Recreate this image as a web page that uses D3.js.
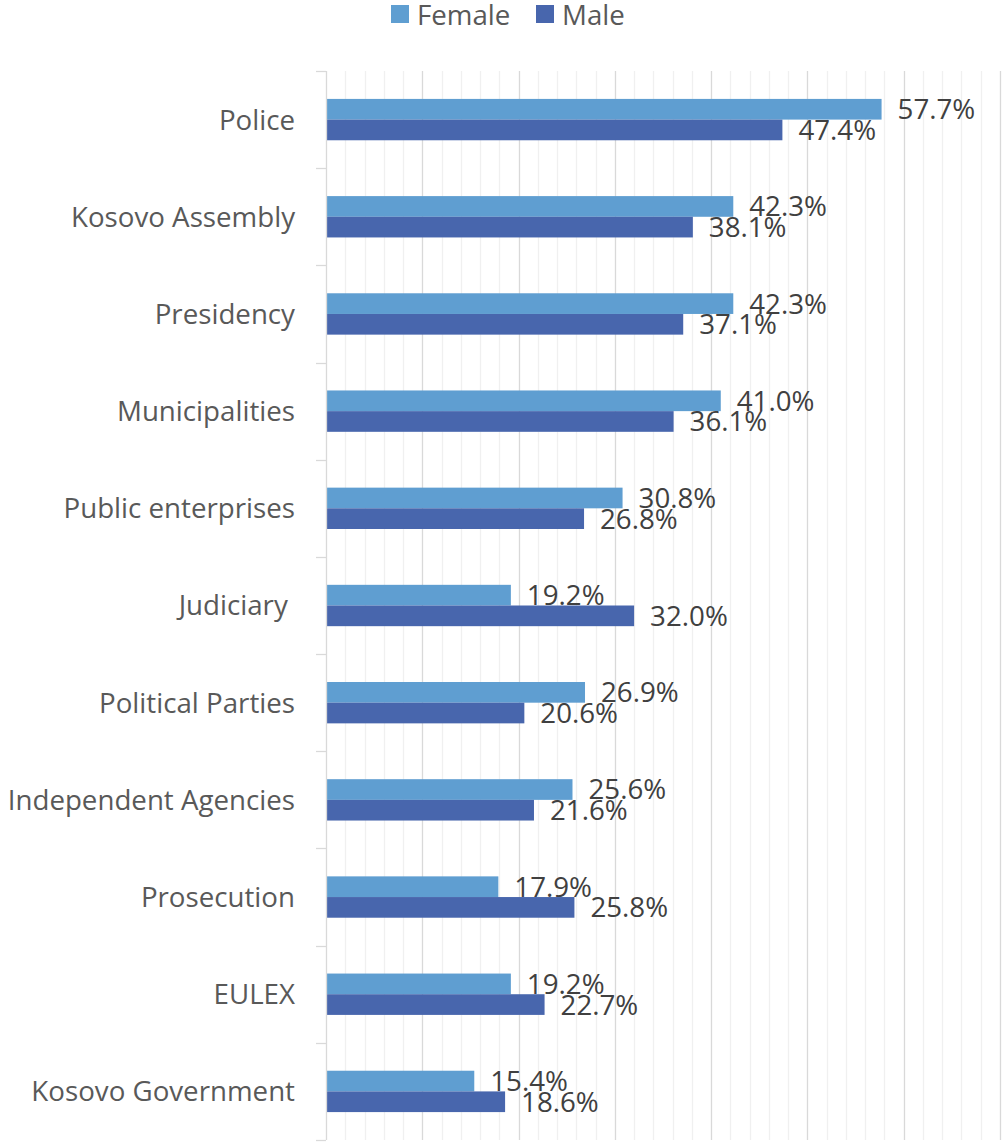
<!DOCTYPE html>
<html>
<head>
<meta charset="utf-8">
<script src="https://cdn.jsdelivr.net/npm/d3@7"></script>
<style>
  body { margin: 0; background: #fff; }
  svg { display: block; font-family: "Open Sans", sans-serif; }
</style>
</head>
<body>
<div id="chart"></div>
<script>
var categories = ["Police", "Kosovo Assembly", "Presidency", "Municipalities", "Public enterprises",
  "Judiciary ", "Political Parties", "Independent Agencies", "Prosecution", "EULEX", "Kosovo Government"];
var female = [57.7, 42.3, 42.3, 41.0, 30.8, 19.2, 26.9, 25.6, 17.9, 19.2, 15.4];
var male = [47.4, 38.1, 37.1, 36.1, 26.8, 32.0, 20.6, 21.6, 25.8, 22.7, 18.6];
var seriesNames = ["Female", "Male"];
var colors = ["#5f9ed1", "#4866ad"];

var width = 1003, height = 1143;
var plotLeft = 326, plotRight = 1000, plotTop = 71, plotBottom = 1140;
var fontSize = "27.7px";

var svg = d3.select("#chart").append("svg").attr("width", width).attr("height", height);

var x = d3.scaleLinear().domain([0, 70]).range([plotLeft, plotRight]);
var y = d3.scaleBand().domain(categories).range([plotTop, plotBottom]);
var inner = d3.scaleBand().domain(seriesNames).range([0, y.bandwidth()]).paddingInner(0).paddingOuter(1.35);

// gridlines: minor every 2%, major every 10%
var minor = d3.range(2, 71, 2).filter(function(d) { return d % 10 !== 0; });
var major = d3.range(10, 71, 10);
svg.append("g").selectAll("line").data(minor).join("line")
  .attr("x1", function(d) { return Math.round(x(d)) + 0.5; })
  .attr("x2", function(d) { return Math.round(x(d)) + 0.5; })
  .attr("y1", plotTop).attr("y2", plotBottom)
  .attr("stroke", "#f0f0f0").attr("stroke-width", 1.3);
svg.append("g").selectAll("line").data(major).join("line")
  .attr("x1", function(d) { return Math.round(x(d)) + 0.5; })
  .attr("x2", function(d) { return Math.round(x(d)) + 0.5; })
  .attr("y1", plotTop).attr("y2", plotBottom)
  .attr("stroke", "#d9d9d9").attr("stroke-width", 1.3);

// bars
var data = [];
categories.forEach(function(c, i) {
  data.push({cat: c, s: "Female", v: female[i], color: colors[0]});
  data.push({cat: c, s: "Male", v: male[i], color: colors[1]});
});

svg.append("g").selectAll("rect").data(data).join("rect")
  .attr("x", x(0))
  .attr("y", function(d) { return y(d.cat) + inner(d.s); })
  .attr("width", function(d) { return x(d.v) - x(0); })
  .attr("height", inner.bandwidth())
  .attr("fill", function(d) { return d.color; });

// value labels
svg.append("g").selectAll("text").data(data).join("text")
  .attr("x", function(d) { return x(d.v) + 16; })
  .attr("y", function(d) { return y(d.cat) + inner(d.s) + inner.bandwidth() / 2; })
  .attr("dy", "0.36em")
  .attr("fill", "#404040")
  .style("font-size", fontSize)
  .text(function(d) { return d.v.toFixed(1) + "%"; });

// category axis
var axis = svg.append("g");
axis.append("line")
  .attr("x1", plotLeft + 0.5).attr("x2", plotLeft + 0.5)
  .attr("y1", plotTop).attr("y2", plotBottom)
  .attr("stroke", "#d9d9d9").attr("stroke-width", 1.3);
var tickY = categories.map(function(c) { return y(c); }).concat([plotBottom]);
axis.selectAll("line.tick").data(tickY).join("line").attr("class", "tick")
  .attr("x1", plotLeft - 10).attr("x2", plotLeft)
  .attr("y1", function(d) { return Math.round(d) + 0.5; })
  .attr("y2", function(d) { return Math.round(d) + 0.5; })
  .attr("stroke", "#d9d9d9").attr("stroke-width", 1.3);
axis.selectAll("text").data(categories).join("text")
  .attr("x", 295)
  .attr("y", function(d) { return y(d) + y.bandwidth() / 2; })
  .attr("dy", "0.36em")
  .attr("text-anchor", "end")
  .attr("fill", "#595959")
  .style("font-size", fontSize)
  .style("white-space", "pre")
  .text(function(d) { return d; });

// legend
var legend = svg.append("g");
var legendX = [391, 536];
seriesNames.forEach(function(s, i) {
  legend.append("rect")
    .attr("x", legendX[i]).attr("y", 5)
    .attr("width", 18).attr("height", 18)
    .attr("fill", colors[i]);
  legend.append("text")
    .attr("x", legendX[i] + 26).attr("y", 15)
    .attr("dy", "0.36em")
    .attr("fill", "#595959")
    .style("font-size", fontSize)
    .text(s);
});
</script>
</body>
</html>
